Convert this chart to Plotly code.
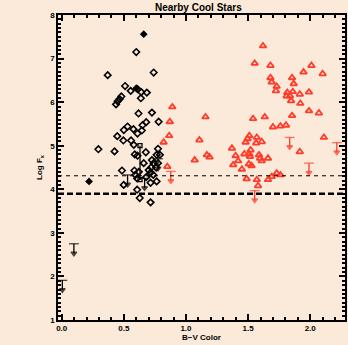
import plotly.graph_objects as go

# ---- data ----
dia_x = [0.60, 0.37, 0.74, 0.51, 0.555, 0.61, 0.64, 0.685, 0.48, 0.466, 0.45, 0.437,
         0.637, 0.618, 0.726, 0.68, 0.78, 0.65, 0.53, 0.50, 0.577, 0.645, 0.61, 0.447,
         0.496, 0.558, 0.58, 0.295, 0.425, 0.588, 0.61, 0.677, 0.775, 0.764, 0.79,
         0.775, 0.66, 0.726, 0.74, 0.485, 0.585, 0.593, 0.607, 0.70, 0.715, 0.737,
         0.715, 0.764, 0.499, 0.607, 0.628, 0.715, 0.76, 0.72, 0.62, 0.68]
dia_y = [7.15, 6.62, 6.68, 6.37, 6.26, 6.30, 6.23, 6.22, 6.13, 6.07, 6.02, 5.95,
         6.09, 5.74, 5.76, 5.54, 5.55, 5.47, 5.44, 5.36, 5.38, 5.35, 5.28, 5.22,
         5.12, 5.12, 5.02, 4.92, 4.87, 4.80, 4.77, 4.85, 4.93, 4.79, 4.79,
         4.60, 4.60, 4.67, 4.60, 4.43, 4.43, 4.33, 4.25, 4.44, 4.38, 4.33,
         4.15, 4.18, 4.10, 3.99, 3.80, 3.70, 4.50, 4.50, 4.40, 4.28]
fill_x = [0.66, 0.60, 0.22]
fill_y = [7.56, 6.32, 4.18]

tri_x = [1.62, 1.553, 1.68, 2.01, 1.946, 2.10, 1.68, 1.854, 1.69, 1.867, 1.73, 1.724,
         1.815, 1.86, 1.81, 1.837, 1.916, 1.99, 1.846, 1.92, 1.99, 2.07, 1.854, 0.89,
         0.87, 1.157, 1.54, 1.634, 1.70, 1.76, 1.805, 0.865, 2.11, 0.82, 1.108, 1.51,
         1.496, 1.48, 1.57, 1.565, 1.61, 1.37, 1.916, 1.52, 1.47, 1.51, 1.515, 1.588,
         1.596, 1.61, 1.66, 1.168, 1.19, 1.07, 1.40, 1.42, 1.38, 1.506, 1.528, 1.45,
         0.85, 1.488, 1.57, 1.58, 1.66, 1.69, 1.73, 1.76]
tri_y = [7.29, 6.89, 6.84, 6.84, 6.69, 6.65, 6.56, 6.56, 6.46, 6.42, 6.36, 6.26,
         6.22, 6.24, 6.14, 6.14, 6.18, 6.23, 6.03, 5.97, 5.80, 5.75, 5.69, 5.89,
         5.55, 5.66, 5.62, 5.66, 5.43, 5.45, 5.47, 5.23, 5.19, 5.08, 5.13, 5.23,
         5.16, 5.08, 5.19, 5.06, 5.09, 4.94, 4.86, 4.90, 4.81, 4.81, 4.75, 4.79,
         4.71, 4.65, 4.71, 4.79, 4.74, 4.67, 4.77, 4.65, 4.56, 4.58, 4.54, 4.46,
         4.52, 4.24, 4.22, 4.08, 4.22, 4.29, 4.37, 4.33]

blk_lim_x = [0.098, 0.005, 0.53, 0.667, 0.775]
blk_lim_y = [2.75, 1.91, 4.33, 4.25, 4.70]
red_lim_x = [1.835, 2.214, 1.99, 0.878, 1.553]
red_lim_y = [5.19, 5.07, 4.60, 4.41, 3.97]

bar_x = 0.63
bar_lo, bar_hi = 4.22, 5.00

thin_level = 4.31
thick_level = 3.90

ARROW = 0.22
RED = "#ff3b2a"
FONT = "Liberation Sans"
BG = "#fbead9"

fig = go.Figure()

def limits(xs, ys, color):
    X, Y, S = [], [], []
    for x, y in zip(xs, ys):
        X += [x, x, None]
        Y += [y, y - ARROW, None]
        S += ["line-ew", "triangle-down", "circle"]
    fig.add_trace(go.Scatter(x=X, y=Y, mode="lines+markers",
                             line=dict(color=color, width=1.3),
                             marker=dict(symbol=S, size=[7, 5, 0] * len(xs), color=color,
                                         line=dict(color=color, width=1.3)),
                             showlegend=False, hoverinfo="skip"))

fig.add_hline(y=thin_level, line=dict(color="black", width=1, dash="4px,4px"))
fig.add_hline(y=thick_level, line=dict(color="black", width=2.5, dash="6px,3px"))

fig.add_trace(go.Scatter(x=dia_x, y=dia_y, mode="markers",
                         marker=dict(symbol="diamond-open", size=5, color="black",
                                     line=dict(color="black", width=1.6)),
                         showlegend=False))
fig.add_trace(go.Scatter(x=fill_x, y=fill_y, mode="markers",
                         marker=dict(symbol="diamond", size=6, color="black"),
                         showlegend=False))
fig.add_trace(go.Scatter(x=[bar_x, bar_x], y=[bar_lo, bar_hi], mode="lines+markers",
                         line=dict(color="black", width=1.3),
                         marker=dict(symbol="square-open", size=4, color="black",
                                     line=dict(color="black", width=1.3)),
                         showlegend=False))
fig.add_trace(go.Scatter(x=tri_x, y=tri_y, mode="markers",
                         marker=dict(symbol="triangle-up-open", size=6, color=RED,
                                     line=dict(color=RED, width=1.8)),
                         showlegend=False))
limits(blk_lim_x, blk_lim_y, "black")
limits(red_lim_x, red_lim_y, RED)

axis_common = dict(showline=True, linecolor="black", linewidth=1.5, mirror="ticks",
                   ticks="inside", tickcolor="black", showgrid=False, zeroline=False,
                   automargin=False,
                   tickfont=dict(size=8, color="black", family=FONT, weight="bold"))

fig.update_xaxes(range=[-0.03, 2.28], tickvals=[0, 0.5, 1.0, 1.5, 2.0],
                 ticktext=["0.0", "0.5", "1.0", "1.5", "2.0"], ticklen=6, tickwidth=1.5,
                 minor=dict(dtick=0.1, tick0=0, ticklen=3, ticks="inside", tickcolor="black"),
                 title=dict(text="B\u2212V Color", standoff=0,
                            font=dict(size=8, color="black", family=FONT, weight="bold")),
                 **axis_common)
fig.update_yaxes(range=[1, 8], dtick=1, ticklen=6, tickwidth=1.5,
                 minor=dict(dtick=0.1, tick0=0, ticklen=3, ticks="inside", tickcolor="black"),
                 title=dict(text="Log F<sub>x</sub>", standoff=6,
                            font=dict(size=8, color="black", family=FONT, weight="bold")),
                 **axis_common)

fig.update_layout(
    width=348, height=345,
    margin=dict(l=58, r=3, t=15, b=25, autoexpand=False),
    paper_bgcolor=BG, plot_bgcolor=BG,
    title=dict(text="<b>Nearby Cool Stars</b>", x=0.57, xanchor="center", y=0.988, yanchor="top",
               font=dict(size=10, color="black", family=FONT)),
)

fig.write_html("out.html", config={"displayModeBar": False},
               post_script="document.body.style.margin='0';document.body.style.background='%s';" % BG)
